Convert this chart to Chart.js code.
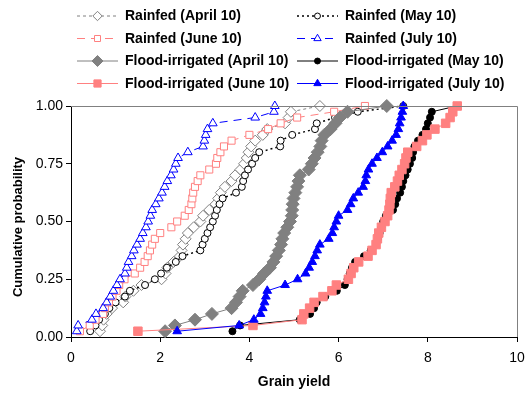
<!DOCTYPE html>
<html><head><meta charset="utf-8">
<script src="https://cdn.jsdelivr.net/npm/chart.js@4/dist/chart.umd.min.js"></script>
<style>html,body{margin:0;padding:0;background:#fff}canvas{display:block}</style>
</head><body>
<canvas id="c" width="528" height="396"></canvas>
<script>
// Cumulative probability levels (y values)
const probability = [0.025,0.05,0.075,0.1,0.125,0.15,0.175,0.2,0.225,0.25,0.275,0.3,0.325,0.35,0.375,0.4,0.425,0.45,0.475,0.5,0.525,0.55,0.575,0.6,0.625,0.65,0.675,0.7,0.725,0.75,0.775,0.8,0.825,0.85,0.875,0.9,0.925,0.95,0.975,1.0];
// Grain yield (x values) for each series
const rainfedApril = [0.65,0.7,0.73,0.8,0.92,1.17,1.22,1.4,1.58,2.03,2.12,2.16,2.3,2.44,2.48,2.51,2.57,2.62,2.75,2.9,2.96,3.1,3.24,3.3,3.36,3.45,3.6,3.68,3.8,3.88,3.94,3.98,4.04,4.13,4.3,4.4,4.8,4.88,4.93,5.58];
const rainfedMay = [0.43,0.55,0.63,0.76,0.86,1.0,1.21,1.32,1.66,1.88,2.02,2.15,2.35,2.5,2.9,2.95,3.0,3.06,3.12,3.18,3.23,3.27,3.33,3.4,3.7,3.83,3.86,3.9,3.97,4.06,4.13,4.22,4.69,4.7,4.96,5.47,5.51,5.92,6.43,7.45];
const rainfedJune = [0.2,0.42,0.55,0.72,0.76,0.85,0.93,1.02,1.08,1.2,1.43,1.55,1.65,1.72,1.77,1.82,1.88,2.0,2.25,2.38,2.55,2.64,2.7,2.72,2.74,2.78,2.84,2.9,3.1,3.25,3.28,3.35,3.43,3.6,4.0,4.42,4.7,5.07,5.9,6.59];
const rainfedJuly = [0.13,0.16,0.47,0.56,0.72,0.8,0.88,0.95,1.03,1.1,1.21,1.25,1.29,1.36,1.41,1.48,1.55,1.61,1.68,1.73,1.78,1.82,1.9,1.97,2.04,2.1,2.16,2.24,2.3,2.35,2.4,2.62,2.96,2.99,3.02,3.06,3.18,4.13,4.55,4.57];
const floodApril = [2.11,2.33,2.78,3.16,3.6,3.7,3.78,3.85,4.08,4.22,4.33,4.46,4.54,4.6,4.66,4.71,4.74,4.78,4.85,4.91,4.95,4.96,4.97,4.99,5.03,5.07,5.1,5.13,5.33,5.4,5.46,5.53,5.59,5.62,5.68,5.82,5.93,6.03,6.2,7.08];
const floodMay = [3.62,3.79,5.13,5.36,5.45,5.51,5.7,5.96,6.14,6.2,6.25,6.3,6.37,6.57,6.72,6.84,6.88,6.92,6.96,7.0,7.06,7.22,7.27,7.31,7.38,7.42,7.45,7.5,7.55,7.6,7.65,7.67,7.7,7.78,7.88,7.96,8.0,8.05,8.09,8.65];
const floodJune = [1.5,4.08,5.18,5.22,5.35,5.45,5.65,5.85,5.95,6.22,6.28,6.34,6.45,6.66,6.75,6.84,6.87,6.9,6.96,7.04,7.1,7.13,7.15,7.16,7.18,7.26,7.32,7.36,7.42,7.48,7.51,7.55,7.75,7.88,7.98,8.16,8.4,8.5,8.56,8.66];
const floodJuly = [2.38,3.77,4.1,4.25,4.3,4.34,4.37,4.4,4.8,5.08,5.26,5.34,5.41,5.47,5.52,5.58,5.78,5.86,5.9,5.95,6.0,6.2,6.27,6.33,6.44,6.55,6.6,6.62,6.67,6.75,6.86,6.98,7.1,7.2,7.29,7.34,7.37,7.4,7.43,7.45];
const seriesLabels = ['Rainfed (April 10)','Rainfed (May 10)','Rainfed (June 10)','Rainfed (July 10)','Flood-irrigated (April 10)','Flood-irrigated (May 10)','Flood-irrigated (June 10)','Flood-irrigated (July 10)'];
const xTicks = [0,2,4,6,8,10];
const yTicks = [0,0.25,0.5,0.75,1];

const FONT = '"Liberation Sans", Arial, sans-serif';
const GRAY = '#808080', SALMON = '#FF8080', BLUE = '#0000FF', BLACK = '#000000';

const seriesX = [rainfedApril, rainfedMay, rainfedJune, rainfedJuly, floodApril, floodMay, floodJune, floodJuly];
const styles = [
  {c: GRAY,   dash: [3,3], lw: 1,   ps: 'rectRot',  r: 5.5, fill: '#fff'},
  {c: BLACK,  dash: [2,3], lw: 1.5, ps: 'circle',   r: 3.5, fill: '#fff'},
  {c: SALMON, dash: [8,6], lw: 1,   ps: 'rect',     r: 5,   fill: '#fff'},
  {c: BLUE,   dash: [8,6], lw: 1,   ps: 'triangle', r: 5,   fill: '#fff'},
  {c: GRAY,   dash: [],    lw: 1,   ps: 'rectRot',  r: 6.5, fill: GRAY},
  {c: BLACK,  dash: [],    lw: 1,   ps: 'circle',   r: 3.5, fill: BLACK},
  {c: SALMON, dash: [],    lw: 1,   ps: 'rect',     r: 6,   fill: SALMON},
  {c: BLUE,   dash: [],    lw: 1,   ps: 'triangle', r: 5,   fill: BLUE}
];

const datasets = seriesX.map((xs, i) => ({
  label: seriesLabels[i],
  data: xs.map((x, k) => ({x: x, y: probability[k]})),
  showLine: true,
  borderColor: styles[i].c,
  borderWidth: styles[i].lw,
  borderDash: styles[i].dash,
  pointStyle: styles[i].ps,
  pointRadius: styles[i].r,
  pointBackgroundColor: styles[i].fill,
  pointBorderColor: styles[i].c,
  pointBorderWidth: 1,
  tension: 0,
  clip: false,
  order: 8 - i
}));

function marker(ctx, style, r, x, y) {
  ctx.beginPath();
  if (style === 'circle') {
    ctx.arc(x, y, r, 0, Math.PI * 2);
  } else if (style === 'rect') {
    const s = r * Math.SQRT1_2;
    ctx.rect(x - s, y - s, 2 * s, 2 * s);
  } else if (style === 'rectRot') {
    ctx.moveTo(x, y - r); ctx.lineTo(x + r, y); ctx.lineTo(x, y + r); ctx.lineTo(x - r, y); ctx.closePath();
  } else if (style === 'triangle') {
    const h = r * 1.5, w = r * Math.sqrt(3) / 2;
    ctx.moveTo(x, y - 2 * h / 3); ctx.lineTo(x + w, y + h / 3); ctx.lineTo(x - w, y + h / 3); ctx.closePath();
  }
  ctx.fill(); ctx.stroke();
}

const decorPlugin = {
  id: 'decor',
  afterDraw(chart) {
    const ctx = chart.ctx;
    const a = chart.chartArea;
    ctx.save();
    // frame (top & right)
    ctx.strokeStyle = GRAY; ctx.lineWidth = 1; ctx.setLineDash([]);
    ctx.beginPath();
    ctx.moveTo(a.left, a.top + 0.5); ctx.lineTo(a.right + 0.5, a.top + 0.5); ctx.lineTo(a.right + 0.5, a.bottom);
    ctx.stroke();
    // axis titles
    ctx.fillStyle = '#000';
    ctx.font = 'bold 14px ' + FONT;
    ctx.textAlign = 'center'; ctx.textBaseline = 'middle';
    ctx.fillText('Grain yield', (a.left + a.right) / 2, 382);
    ctx.save();
    ctx.translate(18, 227); ctx.rotate(-Math.PI / 2);
    ctx.font = 'bold 13px ' + FONT;
    ctx.fillText('Cumulative probability', 0, 0);
    ctx.restore();
    // legend
    const rows = [15.5, 38, 60.5, 83];
    const cols = [{x0: 77, x1: 118, tx: 125}, {x0: 297, x1: 338, tx: 345}];
    chart.data.datasets.forEach((ds, i) => {
      const y = rows[Math.floor(i / 2)], col = cols[i % 2];
      ctx.strokeStyle = ds.borderColor; ctx.lineWidth = ds.borderWidth; ctx.setLineDash(ds.borderDash);
      ctx.beginPath(); ctx.moveTo(col.x0, y + 0.5); ctx.lineTo(col.x1, y + 0.5); ctx.stroke();
      ctx.setLineDash([]); ctx.lineWidth = 1;
      ctx.fillStyle = ds.pointBackgroundColor; ctx.strokeStyle = ds.pointBorderColor;
      marker(ctx, ds.pointStyle, ds.pointRadius * 0.85, (col.x0 + col.x1) / 2, y + 0.5);
      ctx.fillStyle = '#000'; ctx.font = 'bold 14px ' + FONT;
      ctx.textAlign = 'left'; ctx.textBaseline = 'middle';
      ctx.fillText(ds.label, col.tx, y + 1);
    });
    ctx.restore();
  }
};

new Chart(document.getElementById('c'), {
  type: 'scatter',
  data: {datasets: datasets},
  options: {
    responsive: false,
    animation: false,
    devicePixelRatio: 1,
    layout: {padding: {top: 106, right: 11, left: 0, bottom: 0}},
    plugins: {legend: {display: false}, tooltip: {enabled: false}, title: {display: false}},
    scales: {
      x: {
        type: 'linear', min: 0, max: 10,
        afterBuildTicks: s => { s.ticks = xTicks.map(v => ({value: v})); },
        afterFit: s => { s.height = 59; s.paddingLeft = 0; s.paddingRight = 0; },
        ticks: {color: '#000', font: {family: FONT, size: 14}, padding: 8, maxRotation: 0},
        grid: {display: true, drawOnChartArea: false, drawTicks: true, tickLength: 5, color: '#000'},
        border: {color: '#000', width: 1}
      },
      y: {
        type: 'linear', min: 0, max: 1,
        afterBuildTicks: s => { s.ticks = yTicks.map(v => ({value: v})); },
        afterFit: s => { s.width = 71; s.paddingTop = 0; s.paddingBottom = 0; },
        ticks: {color: '#000', font: {family: FONT, size: 14}, padding: 3, callback: v => Number(v).toFixed(2)},
        grid: {display: true, drawOnChartArea: false, drawTicks: true, tickLength: 5, color: '#000'},
        border: {color: '#000', width: 1}
      }
    }
  },
  plugins: [decorPlugin]
});
</script>
</body></html>
